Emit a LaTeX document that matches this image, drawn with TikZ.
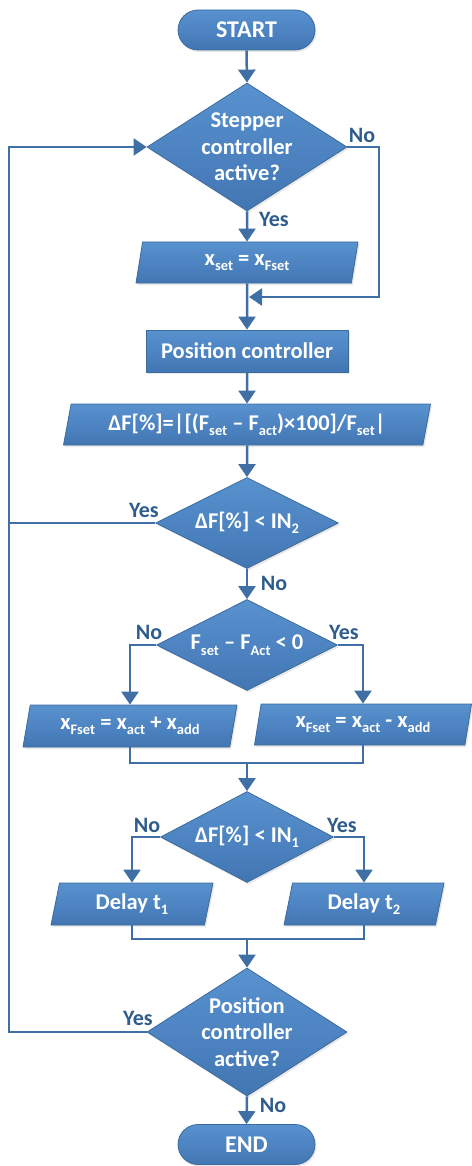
\documentclass[tikz,border=0pt]{standalone}
\usepackage{fontspec}
\setmainfont{Carlito}
\usetikzlibrary{shapes.geometric,arrows.meta,shadows,calc}
\definecolor{boxtop}{HTML}{5892CF}
\definecolor{boxbot}{HTML}{4276B3}
\definecolor{boxline}{HTML}{3C6B9F}
\definecolor{conn}{HTML}{3F6FA5}
\definecolor{lbl}{HTML}{2E5C8C}
\newcommand\mysub[1]{\raisebox{-0.24em}{\fontsize{14.5}{14.5}\selectfont #1}}
\begin{document}
\begin{tikzpicture}[x=1pt,y=-1pt,
 base/.style={draw=boxline, line width=0.8pt, top color=boxtop, bottom color=boxbot, text=white,
   font=\fontsize{22.5}{26.5}\selectfont\bfseries, inner sep=0pt, align=center,
   drop shadow={opacity=0.18,shadow xshift=1.5pt,shadow yshift=-2pt}},
 term/.style={base, rectangle, rounded corners=20pt, minimum width=137pt, minimum height=40pt, font=\fontsize{24}{26}\selectfont\bfseries},
 proc/.style={base, rectangle, minimum width=202pt, minimum height=42pt},
 dec/.style={base, diamond},
 io/.style={base, trapezium, trapezium left angle=68, trapezium right angle=112, trapezium stretches body},
 arr/.style={draw=conn, line width=2.5pt, -{Triangle[width=17pt,length=13pt]}},
 ln/.style={draw=conn, line width=2.5pt},
 lab/.style={text=lbl, font=\fontsize{22}{22}\selectfont\bfseries, inner sep=0pt}
]
\useasboundingbox (0,0) rectangle (471,1166);

\node[term] (start) at (246.5,30) {START};
\node[dec, shape aspect=1.5625, inner sep=-5pt, minimum width=200pt, minimum height=128pt] (d1) at (247,147) {Stepper\\controller\\active?};
\node[io, minimum width=222pt, minimum height=41pt] (p1) at (247,262.5) {x\mysub{set} = x\mysub{Fset}};
\node[proc] (pos) at (247,351) {Position controller};
\node[io, trapezium left angle=71, trapezium right angle=109, minimum width=367pt, minimum height=41pt] (p2) at (247,424.5) {ΔF[\%]=|[(F\mysub{set} – F\mysub{act})×100]/F\mysub{set}|};
\node[dec, shape aspect=2, minimum width=183pt, minimum height=91pt] (d2) at (247,523) {ΔF[\%] < IN\mysub{2}};
\node[dec, shape aspect=2, minimum width=181pt, minimum height=91pt] (d3) at (247,645) {F\mysub{set} – F\mysub{Act} < 0};
\node[io, minimum width=214pt, minimum height=42pt] (p3) at (130,726) {x\mysub{Fset} = x\mysub{act} + x\mysub{add}};
\node[io, minimum width=217pt, minimum height=41pt] (p4) at (363,724.5) {x\mysub{Fset} = x\mysub{act} - x\mysub{add}};
\node[dec, shape aspect=2, minimum width=173pt, minimum height=91pt] (d4) at (247,837) {ΔF[\%] < IN\mysub{1}};
\node[io, minimum width=162pt, minimum height=42pt] (p5) at (132,904) {Delay t\mysub{1}};
\node[io, minimum width=160pt, minimum height=42pt] (p6) at (364,904) {Delay t\mysub{2}};
\node[dec, shape aspect=1.5625, inner sep=-5pt, minimum width=200pt, minimum height=128pt] (d5) at (247,1032) {Position\\controller\\active?};
\node[term] (end) at (246.5,1144.5) {END};

\coordinate (m1) at (249,297);
\coordinate (nr) at (379,297);
\coordinate (ly) at (9,523);
\coordinate (lb) at (9,1032);
\coordinate (lt) at (9,147);
\coordinate (j1) at (247,763);
\coordinate (j2) at (247,939);

\draw[arr] (start.south) -- (d1.north);
\draw[arr] (d1.south) -- (p1.north);
\draw[arr] (p1.south) -- (pos.north);
\draw[arr] (d1.east) -| (nr) -- (m1);
\draw[arr] (pos.south) -- (p2.north);
\draw[arr] (p2.south) -- (d2.north);
\draw[ln] (d2.west) -- (ly);
\draw[arr] (d2.south) -- (d3.north);
\draw[arr] (d3.west) -| (p3.north);
\draw[arr] (d3.east) -| (p4.north);
\draw[ln] (p3.south) |- (j1);
\draw[ln] (p4.south) |- (j1);
\draw[arr] (j1) -- (d4.north);
\draw[arr] (d4.west) -| (p5.north);
\draw[arr] (d4.east) -| (p6.north);
\draw[ln] (p5.south) |- (j2);
\draw[ln] (p6.south) |- (j2);
\draw[arr] (j2) -- (d5.north);
\draw[arr] (d5.south) -- (end.north);
\draw[arr] (d5.west) -- (lb) -- (lt) -- (d1.west);

\node[lab] (l1) at (362,135) {No};
\node[lab] (l2) at (274,219) {Yes};
\node[lab] (l3) at (144,510) {Yes};
\node[lab] (l4) at (274,583) {No};
\node[lab] (l5) at (149,632) {No};
\node[lab] (l6) at (344,632) {Yes};
\node[lab] (l7) at (147,825) {No};
\node[lab] (l8) at (342,825) {Yes};
\node[lab] (l9) at (138,1018) {Yes};
\node[lab] (l10) at (273,1105) {No};
\end{tikzpicture}
\end{document}
